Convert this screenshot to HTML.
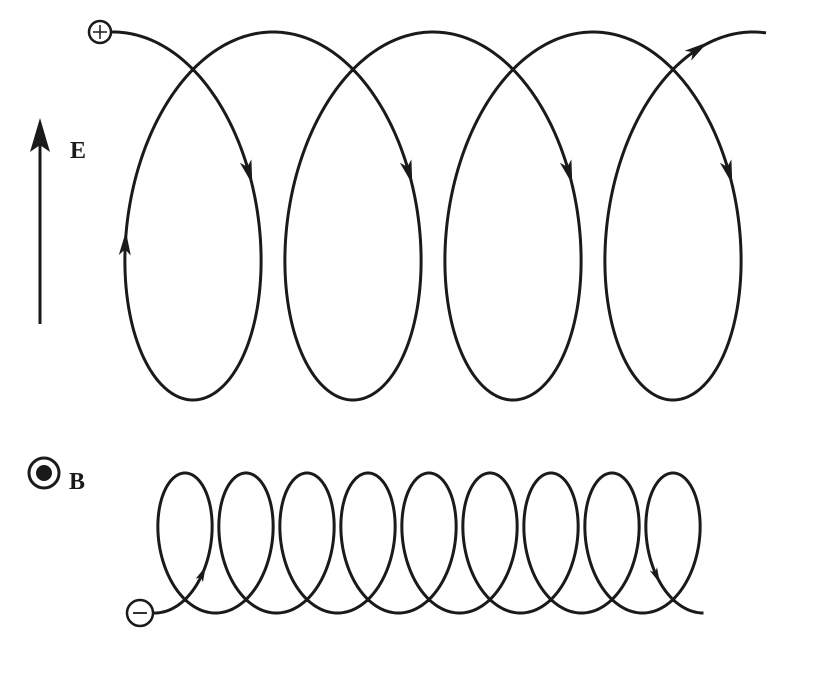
<!DOCTYPE html>
<html><head><meta charset="utf-8"><style>
html,body{margin:0;padding:0;background:#fff;width:826px;height:677px;overflow:hidden}
svg{display:block}
text{font-family:"Liberation Serif",serif;font-weight:bold;fill:#1a1a1a}
</style></head><body>
<svg id="s" width="826" height="677" viewBox="0 0 826 677" xmlns="http://www.w3.org/2000/svg">
<g fill="none" stroke="#1a1a1a" stroke-width="3">
<path id="top"/>
<path id="bot"/>
<line x1="40" y1="324" x2="40" y2="135"/>
<circle cx="100" cy="32" r="11" fill="#fff" stroke-width="2.5"/>
<line x1="93" y1="32" x2="107" y2="32" stroke-width="1.5"/>
<line x1="100" y1="25" x2="100" y2="39" stroke-width="1.5"/>
<circle cx="140" cy="613" r="13" fill="#fff" stroke-width="2.5"/>
<line x1="133" y1="613" x2="147" y2="613" stroke-width="1.8"/>
<circle cx="44" cy="473" r="15" stroke-width="3"/>
</g>
<circle cx="44" cy="473" r="8" fill="#1a1a1a"/>
<polygon points="40,118 30,152 40,145 50,152" fill="#1a1a1a"/>
<text x="70" y="158" font-size="24">E</text>
<text x="69" y="489" font-size="24">B</text>
<g id="arr" fill="#1a1a1a"></g>
</svg>
<script>
function T(t){return [113+160*t/(2*Math.PI)+105*Math.sin(t),216-184*Math.cos(t)];}
function TD(t){return [160/(2*Math.PI)+105*Math.cos(t),184*Math.sin(t)];}
function B(t){return [154.5+61*t/(2*Math.PI)+41.25*Math.sin(t),543+70*Math.cos(t)];}
function BD(t){return [61/(2*Math.PI)+41.25*Math.cos(t),-70*Math.sin(t)];}
function path(f,a,b,n,pre){var d=pre||"";for(var i=0;i<=n;i++){var p=f(a+(b-a)*i/n);d+=(d?"L":"M")+p[0].toFixed(2)+","+p[1].toFixed(2);}return d;}
document.getElementById("top").setAttribute("d",path(T,0,8*Math.PI+0.1,1200,"M111,32"));
document.getElementById("bot").setAttribute("d",path(B,0,18*Math.PI,1800,"M153,613"));
var g=document.getElementById("arr"),ns="http://www.w3.org/2000/svg";
function arrow(f,fd,t,L,W){var p=f(t),d=fd(t),m=Math.hypot(d[0],d[1]),ux=d[0]/m,uy=d[1]/m,nx=-uy,ny=ux;
var tip=[p[0]+ux*L*0.6,p[1]+uy*L*0.6],bx=p[0]-ux*L*0.4,by=p[1]-uy*L*0.4;
var pts=[tip,[bx+nx*W/2,by+ny*W/2],[p[0]-ux*L*0.15,p[1]-uy*L*0.15],[bx-nx*W/2,by-ny*W/2]];
var e=document.createElementNS(ns,"polygon");e.setAttribute("points",pts.map(function(q){return q[0].toFixed(1)+","+q[1].toFixed(1)}).join(" "));g.appendChild(e);}
for(var k=0;k<4;k++)arrow(T,TD,1.32+2*Math.PI*k,24,12);
arrow(T,TD,4.55,24,12);
arrow(T,TD,8*Math.PI-0.45,24,12);
arrow(B,BD,1.1,16,8);
arrow(B,BD,18*Math.PI-1.1,16,8);
</script>
</body></html>
